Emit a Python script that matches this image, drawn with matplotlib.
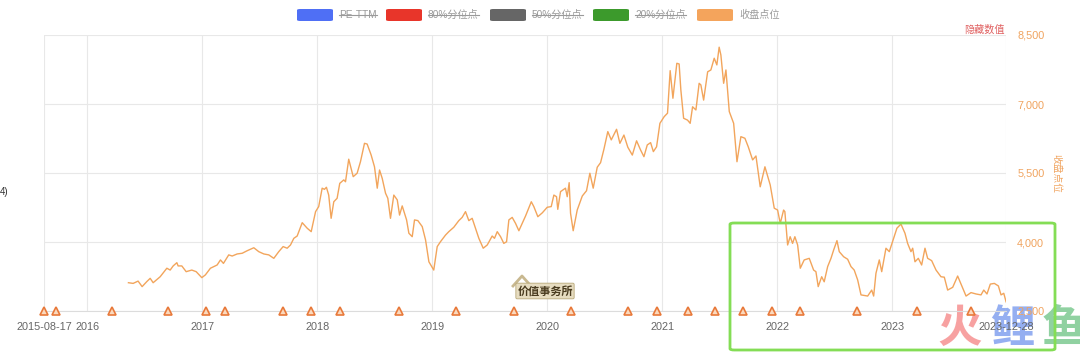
import matplotlib
matplotlib.use("Agg")
import matplotlib.pyplot as plt
from matplotlib.patches import FancyBboxPatch
from matplotlib.lines import Line2D
import pandas as pd

plt.rcParams['font.family'] = ['Liberation Sans', 'Noto Sans CJK SC', 'DejaVu Sans']

# decimal years of the close series
years = [2016.359, 2016.400, 2016.443, 2016.478, 2016.519, 2016.548, 2016.574, 2016.635, 2016.693, 2016.722,
         2016.748, 2016.780, 2016.791, 2016.823, 2016.861, 2016.910, 2016.948, 2016.997, 2017.026, 2017.070,
         2017.128, 2017.157, 2017.183, 2017.229, 2017.259, 2017.302, 2017.346, 2017.389, 2017.447, 2017.490,
         2017.534, 2017.577, 2017.621, 2017.664, 2017.702, 2017.737, 2017.766, 2017.795, 2017.824, 2017.868,
         2017.911, 2017.946, 2017.984, 2018.012, 2018.042, 2018.062, 2018.079, 2018.099, 2018.120, 2018.143,
         2018.172, 2018.195, 2018.230, 2018.245, 2018.273, 2018.312, 2018.346, 2018.375, 2018.410, 2018.433,
         2018.468, 2018.497, 2018.521, 2018.541, 2018.564, 2018.593, 2018.613, 2018.636, 2018.665, 2018.695,
         2018.715, 2018.738, 2018.776, 2018.796, 2018.825, 2018.845, 2018.874, 2018.912, 2018.941, 2018.970,
         2019.013, 2019.043, 2019.071, 2019.115, 2019.144, 2019.187, 2019.231, 2019.260, 2019.289, 2019.318,
         2019.347, 2019.376, 2019.405, 2019.443, 2019.478, 2019.521, 2019.541, 2019.565, 2019.594, 2019.622,
         2019.646, 2019.666, 2019.695, 2019.724, 2019.753, 2019.811, 2019.861, 2019.883, 2019.918, 2019.957,
         2020.000, 2020.035, 2020.058, 2020.081, 2020.092, 2020.116, 2020.159, 2020.174, 2020.191, 2020.203,
         2020.226, 2020.261, 2020.305, 2020.342, 2020.371, 2020.400, 2020.435, 2020.464, 2020.493, 2020.527,
         2020.557, 2020.603, 2020.632, 2020.667, 2020.701, 2020.740, 2020.777, 2020.812, 2020.841, 2020.870,
         2020.899, 2020.923, 2020.951, 2020.980, 2021.015, 2021.044, 2021.067, 2021.091, 2021.125, 2021.145,
         2021.160, 2021.184, 2021.218, 2021.241, 2021.262, 2021.291, 2021.319, 2021.334, 2021.358, 2021.393,
         2021.421, 2021.450, 2021.473, 2021.493, 2021.508, 2021.532, 2021.552, 2021.581, 2021.619, 2021.648,
         2021.682, 2021.717, 2021.746, 2021.784, 2021.813, 2021.850, 2021.891, 2021.937, 2021.972, 2022.002,
         2022.025, 2022.054, 2022.065, 2022.089, 2022.111, 2022.132, 2022.152, 2022.176, 2022.199, 2022.233,
         2022.277, 2022.315, 2022.335, 2022.355, 2022.385, 2022.407, 2022.437, 2022.466, 2022.489, 2022.518,
         2022.538, 2022.576, 2022.611, 2022.640, 2022.668, 2022.698, 2022.727, 2022.785, 2022.820, 2022.837,
         2022.857, 2022.886, 2022.907, 2022.944, 2022.973, 2023.011, 2023.040, 2023.075, 2023.110, 2023.133,
         2023.162, 2023.177, 2023.197, 2023.226, 2023.255, 2023.284, 2023.307, 2023.342, 2023.380, 2023.423,
         2023.452, 2023.481, 2023.525, 2023.568, 2023.612, 2023.641, 2023.684, 2023.728, 2023.771, 2023.795,
         2023.823, 2023.852, 2023.887, 2023.922, 2023.945, 2023.969, 2023.989]

close = [3115, 3100, 3150, 3030, 3140, 3210, 3115, 3245, 3430, 3390,
         3480, 3550, 3480, 3480, 3355, 3390, 3355, 3225, 3285, 3430,
         3500, 3610, 3535, 3720, 3695, 3740, 3755, 3810, 3875, 3790,
         3740, 3720, 3645, 3790, 3900, 3865, 3935, 4080, 4130, 4420,
         4300, 4225, 4660, 4770, 5170, 5145, 5190, 5020, 4515, 4875,
         4950, 5275, 5350, 5310, 5800, 5420, 5495, 5745, 6145, 6130,
         5890, 5635, 5170, 5565, 5385, 5060, 4950, 4515, 5020, 4915,
         4585, 4785, 4480, 4190, 4115, 4480, 4465, 4335, 4045, 3570,
         3390, 3900, 4005, 4150, 4225, 4320, 4465, 4535, 4660, 4465,
         4515, 4300, 4080, 3865, 3935, 4130, 4080, 4225, 4115, 3970,
         4005, 4480, 4535, 4405, 4245, 4565, 4875, 4770, 4550, 4635,
         4755, 4770, 5020, 4985, 4710, 5095, 5170, 4985, 5290, 4625,
         4245, 4695, 5000, 5115, 5495, 5170, 5625, 5725, 6015, 6400,
         6220, 6450, 6145, 6325, 6060, 5890, 6200, 6000, 5855, 6110,
         6160, 5965, 6070, 6580, 6725, 6800, 7725, 7125, 7885, 7870,
         7305, 6690, 6650, 6580, 6940, 6870, 7450, 7415, 7085, 7700,
         7740, 7995, 7850, 8235, 8065, 7450, 7740, 6835, 6580, 5745,
         6290, 6255, 6070, 5785, 5870, 5200, 5635, 5240, 4735, 4695,
         4405, 4695, 4660, 3935, 4115, 3970, 4115, 3935, 3430, 3610,
         3645, 3390, 3355, 3030, 3245, 3135, 3465, 3645, 3825, 4030,
         3790, 3680, 3625, 3465, 3390, 3175, 2850, 2825, 2955, 2825,
         3320, 3610, 3355, 3865, 3790, 4080, 4300, 4390, 4190, 3970,
         3790, 3865, 3570, 3645, 3500, 3865, 3645, 3595, 3390, 3245,
         3235, 2955, 3015, 3260, 2995, 2825, 2900, 2870, 2850, 2955,
         2870, 3085, 3100, 3045, 2850, 2885, 2700]

# triangle markers along the bottom (decimal years)
mark_years = [2015.626, 2015.728, 2016.219, 2016.702, 2017.028, 2017.196, 2017.700, 2017.945,
              2018.194, 2018.709, 2019.207, 2019.708, 2020.205, 2020.706, 2020.955, 2021.221,
              2021.455, 2021.704, 2021.949, 2022.196, 2022.693, 2023.218, 2023.687]

start_date = "2015-08-17"
end_date = "2023-12-28"
year_ticks = [2016, 2017, 2018, 2019, 2020, 2021, 2022, 2023]
y_ticks = [2500, 4000, 5500, 7000, 8500]

legend_names = ["PE-TTM", "80%分位点", "50%分位点", "20%分位点", "收盘点位"]
legend_colors = ["#4f6ff5", "#e8352a", "#666666", "#3c9a2c", "#f4a45c"]


def to_date(y):
    yi = int(y)
    return pd.Timestamp(year=yi, month=1, day=1) + pd.Timedelta(days=(y - yi) * 365.25)


W, H = 1080, 352


def fx(x):
    return x / W


def fy(y):
    return 1 - y / H


fig = plt.figure(figsize=(10.8, 3.52), dpi=100)
ax = fig.add_axes([fx(44), fy(311), fx(1006) - fx(44), fy(35) - fy(311)])
ax.patch.set_alpha(0)

dates = [to_date(y) for y in years]
ax.plot(dates, close, color="#f2a55c", lw=1.0, zorder=3)

mark_dates = [to_date(y) for y in mark_years]
ax.plot(mark_dates, [y_ticks[0]] * len(mark_dates), ls="none", marker="^", ms=5.5,
        mfc="#fbd9bd", mec="#e8793a", mew=1.2, zorder=4, clip_on=False)

x0, x1 = pd.Timestamp(start_date), pd.Timestamp(end_date)
ax.set_xlim(x0, x1)
ax.set_ylim(y_ticks[0], y_ticks[-1])

xt = [x0] + [pd.Timestamp(year=y, month=1, day=1) for y in year_ticks] + [x1]
ax.set_xticks(xt)
ax.set_xticklabels([start_date] + [str(y) for y in year_ticks] + [end_date],
                   fontsize=7.8, color="#666666")
ax.tick_params(axis="x", length=0, pad=8)

ax.yaxis.tick_right()
ax.set_yticks(y_ticks)
ax.set_yticklabels([f"{v:,}" for v in y_ticks], fontsize=7.8, color="#f0a35e")
ax.tick_params(axis="y", length=0, pad=8)

ax.grid(True, color="#e8e8e8", lw=0.8, zorder=0)
for s in ["top", "left", "right"]:
    ax.spines[s].set_visible(False)
ax.spines["bottom"].set_color("#dcdcdc")
ax.spines["bottom"].set_linewidth(0.8)

# right axis name and hidden-value label
fig.text(fx(1056), fy(173), "收盘点位", rotation=-90, ha="center", va="center",
         fontsize=7, color="#f0a35e", family=["Noto Sans CJK SC"])
fig.text(fx(1005), fy(30), "隐藏数值", ha="right", va="center",
         fontsize=7.3, color="#e06060", family=["Noto Sans CJK SC"])
fig.text(fx(0), fy(192), "4)", ha="left", va="center", fontsize=7, color="#333333")

# legend drawn by hand (first four items are switched off)
px_starts = [297, 386, 490, 593, 697]
texts = []
for i, (name, col) in enumerate(zip(legend_names, legend_colors)):
    xs = px_starts[i]
    fig.patches.append(FancyBboxPatch((fx(xs), fy(21)), fx(36), fy(9) - fy(21),
                                      boxstyle="round,pad=0,rounding_size=0.003",
                                      transform=fig.transFigure, fc=col, ec="none"))
    t = fig.text(fx(xs + 42), fy(15), name, ha="left", va="center", fontsize=7.3,
                 color="#9a9a9a", family=["Liberation Sans", "Noto Sans CJK SC"])
    texts.append(t)

fig.canvas.draw()
r = fig.canvas.get_renderer()
for t in texts[:4]:
    bb = t.get_window_extent(r).transformed(fig.transFigure.inverted())
    ym = (bb.y0 + bb.y1) / 2
    fig.lines.append(Line2D([bb.x0, bb.x1], [ym, ym], color="#9a9a9a", lw=0.8,
                            transform=fig.transFigure))

# logo in the middle
fig.lines.append(Line2D([fx(513), fx(522), fx(531)], [fy(286), fy(276), fy(286)],
                        color="#c8b890", lw=2, transform=fig.transFigure))
fig.text(fx(545), fy(291), "价值事务所", ha="center", va="center", fontsize=8,
         color="#4a3c20", family=["Noto Sans CJK SC"], fontweight="bold",
         bbox=dict(boxstyle="round,pad=0.12", fc="#e6dcc0", ec="#b8a878", lw=0.6))

# highlight box
fig.patches.append(FancyBboxPatch((fx(730), fy(350)), fx(1055) - fx(730), fy(223) - fy(350),
                                  boxstyle="round,pad=0,rounding_size=0.004",
                                  transform=fig.transFigure, fc="none", ec="#84dd55",
                                  lw=2, zorder=10))

# watermark (sits under the axis labels)
for ch, xc, col in [("火", 960, "#f58a8a"), ("鲤", 1012, "#7b9bee"), ("鱼", 1064, "#74c68a")]:
    fig.text(fx(xc), fy(329), ch, ha="center", va="center", fontsize=32, fontweight="bold",
             color=col, alpha=0.8, family=["Noto Sans CJK SC"], zorder=-1)

fig.savefig("out.png", dpi=100, facecolor="white")
